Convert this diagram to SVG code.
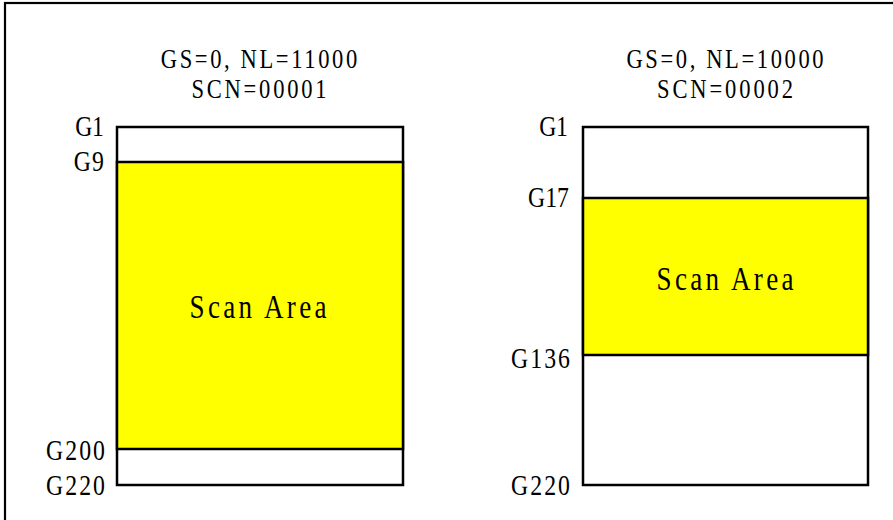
<svg xmlns="http://www.w3.org/2000/svg" width="893" height="520" viewBox="0 0 893 520">
<style>
text{font-family:"Liberation Serif","Times New Roman",serif;font-size:29px;fill:#000}
.t{text-anchor:middle;font-size:26.5px}
.g{text-anchor:end}
.sa{font-size:33px;text-anchor:middle}
.box{fill:#fff;stroke:#000;stroke-width:2.5}
.scan{fill:#ffff00;stroke:#000;stroke-width:2.5}
</style>
<rect x="5" y="3" width="900" height="530" fill="#fff" stroke="#000" stroke-width="2.2"/>
<g id="left">
<rect class="box" x="117" y="127" width="286" height="358"/>
<rect class="scan" x="117" y="162" width="286" height="287"/>
<text class="t" transform="translate(259,68) scale(0.85,1)" textLength="231" lengthAdjust="spacing">GS=0, NL=11000</text>
<text class="t" transform="translate(259,98) scale(0.85,1)" textLength="159" lengthAdjust="spacing">SCN=00001</text>
<text class="sa" transform="translate(258,318) scale(0.82,1)" textLength="167" lengthAdjust="spacing">Scan Area</text>
<text class="g" transform="translate(104,136) scale(0.82,1)" textLength="35" lengthAdjust="spacing">G1</text>
<text class="g" transform="translate(104,171) scale(0.82,1)" textLength="37" lengthAdjust="spacing">G9</text>
<text class="g" transform="translate(105,460) scale(0.82,1)" textLength="72" lengthAdjust="spacing">G200</text>
<text class="g" transform="translate(105,495) scale(0.82,1)" textLength="72" lengthAdjust="spacing">G220</text>
</g>
<g id="right">
<rect class="box" x="583" y="127" width="285" height="358"/>
<rect class="scan" x="583" y="198" width="285" height="157"/>
<text class="t" transform="translate(725,68) scale(0.85,1)" textLength="232" lengthAdjust="spacing">GS=0, NL=10000</text>
<text class="t" transform="translate(725,98) scale(0.85,1)" textLength="160" lengthAdjust="spacing">SCN=00002</text>
<text class="sa" transform="translate(725,290) scale(0.82,1)" textLength="167" lengthAdjust="spacing">Scan Area</text>
<text class="g" transform="translate(568,136) scale(0.82,1)" textLength="35" lengthAdjust="spacing">G1</text>
<text class="g" transform="translate(569,207) scale(0.82,1)" textLength="50" lengthAdjust="spacing">G17</text>
<text class="g" transform="translate(570,368) scale(0.82,1)" textLength="72" lengthAdjust="spacing">G136</text>
<text class="g" transform="translate(570,495) scale(0.82,1)" textLength="72" lengthAdjust="spacing">G220</text>
</g>
<g id="connectors"></g>
</svg>
